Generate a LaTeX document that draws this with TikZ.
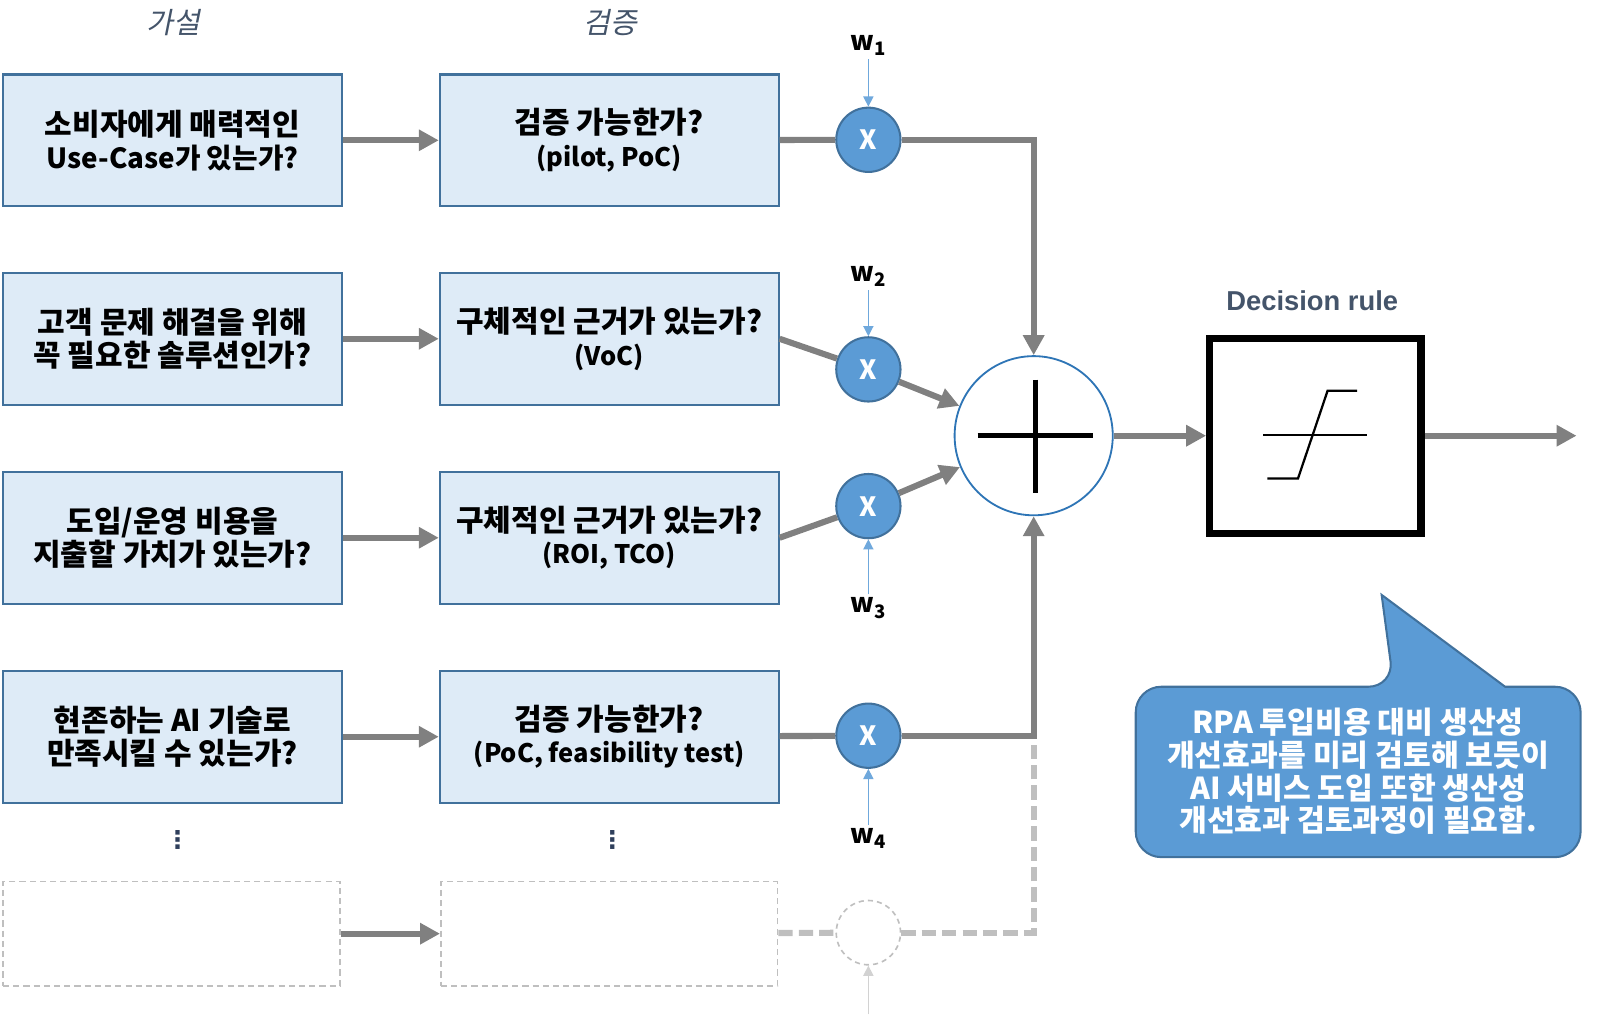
\documentclass[tikz,border=0pt]{standalone}
\usepackage{fontspec}
\setmainfont{Noto Sans CJK KR}
\newfontfamily\krit{Noto Sans CJK KR}[FakeSlant=0.2]
\newfontfamily\arialf{Liberation Sans}
\newfontfamily\dejavuf{DejaVu Sans}
\usetikzlibrary{arrows.meta,shapes.geometric,calc}
\definecolor{boxfill}{HTML}{DEEBF7}
\definecolor{boxborder}{HTML}{41719C}
\definecolor{cfill}{HTML}{5B9BD5}
\definecolor{cborder}{HTML}{41719C}
\definecolor{cgray}{HTML}{808080}
\definecolor{lgray}{HTML}{BFBFBF}
\definecolor{sumborder}{HTML}{2E75B6}
\definecolor{wblue}{HTML}{6FA8DC}
\definecolor{titlecol}{HTML}{44546A}
\definecolor{dotcol}{HTML}{2F3F5C}
\newcommand\hgl{\fontsize{14.7}{16}\selectfont}
\newcommand\mxl{\fontsize{13.6}{16}\selectfont}
\newcommand\ltn{\fontsize{12.5}{16}\selectfont}
\tikzset{
 qbox/.style={draw=boxborder, fill=boxfill, line width=1pt, minimum width=166pt, minimum height=64.5pt, inner sep=0pt, align=center, font=\fontsize{13.5}{16}\selectfont\bfseries},
 dbox/.style={draw=lgray, dash pattern=on 3pt off 2pt, line width=0.8pt, minimum width=165pt, minimum height=51pt, inner sep=0pt},
 mul/.style={circle, draw=cborder, fill=cfill, line width=1pt, minimum size=31.5pt, inner sep=0pt, text=white, font=\fontsize{13}{15}\selectfont\bfseries},
 dcirc/.style={circle, draw=lgray, dash pattern=on 2.5pt off 2pt, line width=0.8pt, minimum size=31.5pt, inner sep=0pt},
 wlab/.style={font=\fontsize{13}{14}\selectfont\bfseries, inner sep=1.5pt},
 gline/.style={draw=cgray, line width=3pt},
 garr/.style={gline, -{Triangle[length=9.8pt,width=10pt]}},
 dline/.style={draw=lgray, line width=3pt, dash pattern=on 7pt off 3pt},
 warr/.style={draw=wblue, line width=0.6pt, -{Triangle[length=5pt,width=5pt]}},
 ttl/.style={font=\krit\fontsize{14.3}{16}\selectfont, text=titlecol},
 dots/.style={font=\dejavuf\fontsize{12}{14}\selectfont\bfseries, text=dotcol},
}
\begin{document}
\begin{tikzpicture}[x=0.5pt,y=-0.5pt]
\useasboundingbox (0,0) rectangle (1568,994);
% titles
\node[ttl] (t1) at (170,22) {가설};
\node[ttl] (t2) at (598,22) {검증};
% hypothesis boxes
\node[qbox] (h1) at (169,137.5) {{\hgl 소비자에게 매력적인}\\{\mxl Use-Case가 있는가?}};
\node[qbox] (h2) at (169,332) {{\hgl 고객 문제 해결을 위해}\\{\hgl 꼭 필요한 솔루션인가?}};
\node[qbox] (h3) at (169,527) {{\hgl 도입/운영 비용을}\\{\hgl 지출할 가치가 있는가?}};
\node[qbox] (h4) at (169,722) {{\hgl 현존하는 AI 기술로}\\{\hgl 만족시킬 수 있는가?}};
% verification boxes
\node[qbox] (v1) at (597,137.5) {{\hgl 검증 가능한가?}\\{\ltn (pilot, PoC)}};
\node[qbox] (v2) at (597,332) {{\hgl 구체적인 근거가 있는가?}\\{\ltn (VoC)}};
\node[qbox] (v3) at (597,527) {{\hgl 구체적인 근거가 있는가?}\\{\ltn (ROI, TCO)}};
\node[qbox] (v4) at (597,722) {{\hgl 검증 가능한가?}\\{\ltn (PoC, feasibility test)}};
% dots
\node[dots] (d1) at (174,823) {⋮};
\node[dots] (d2) at (600,823) {⋮};
% dashed row
\node[dbox] (h5) at (168,915) {};
\node[dbox] (v5) at (597,915) {};
\node[dcirc] (m5) at (851,914) {};
% multiply nodes
\node[mul] (m1) at (851,137) {X};
\node[mul] (m2) at (851,362) {X};
\node[mul] (m3) at (851,496) {X};
\node[mul] (m4) at (851,721) {X};
% weights
\node[wlab] (w1) at (851,45) {w\textsubscript{1}};
\node[wlab] (w2) at (851,271) {w\textsubscript{2}};
\node[wlab] (w3) at (851,596) {w\textsubscript{3}};
\node[wlab] (w4) at (851,822) {w\textsubscript{4}};
\coordinate (w5) at (851,994);
% sum
\node[ellipse, draw=sumborder, fill=white, line width=0.9pt, minimum width=77.5pt, minimum height=78pt, inner sep=0pt] (sum) at (1013,427) {};
\draw[line width=2.6pt] ([xshift=-27.5pt]sum.center) -- ([xshift=29pt]sum.center);
\draw[line width=2.6pt] ([xshift=1pt,yshift=27.5pt]sum.center) -- ([xshift=1pt,yshift=-28pt]sum.center);
% decision
\node[font=\arialf\fontsize{13.4}{15}\selectfont\bfseries, text=titlecol] (dt) at (1286,295) {Decision rule};
\node[draw=black, line width=3.5pt, minimum width=103.5pt, minimum height=95.5pt, inner sep=0pt] (dec) at (1289,427) {};
\begin{scope}[shift={(dec.center)}]
 \draw[line width=1.1pt] (-51,-1) -- (51,-1);
 \draw[line width=1.1pt] (-47,42) -- (-17,42) -- (12,-44) -- (41,-44);
\end{scope}
\coordinate (out) at (1545,427);
% connectors
\draw[garr] (h1) -- (v1);
\draw[garr] (h2) -- (v2);
\draw[garr] (h3) -- (v3);
\draw[garr] (h4) -- (v4);
\draw[garr] (h5) -- (v5);
\draw[gline] (v1) -- (m1);
\draw[gline] (v2.east) -- (m2);
\draw[gline] (v3.east) -- (m3);
\draw[gline] (v4) -- (m4);
\coordinate (j4) at (1013,721);
\draw[dline] (v5) -- (m5);
\draw[dline] (m5) -| (j4);
\draw[garr] (m1) -| (sum);
\draw[garr] (m2) -- (sum);
\draw[garr] (m3) -- (sum);
\draw[garr] (m4) -| (sum);
\draw[garr] (sum) -- (dec);
\draw[garr] (dec) -- (out);
\draw[warr] (w1) -- (m1);
\draw[warr] (w2) -- (m2);
\draw[warr] (w3) -- (m3);
\draw[warr] (w4) -- (m4);
\draw[warr, draw=lgray!70] (w5) -- (m5);
% callout
\path[fill=cfill, draw=cborder, line width=1pt]
 (1475,673) [rounded corners=12.5pt] -- (1549,673) -- (1549,840) -- (1113,840) -- (1113,673) -- (1366,673) [sharp corners] -- (1354,583) -- cycle;
\node[align=center, text=white, font=\fontsize{14.8}{16}\selectfont\bfseries] (ct) at (1331,756) {RPA 투입비용 대비 생산성\\개선효과를 미리 검토해 보듯이\\AI 서비스 도입 또한 생산성\\개선효과 검토과정이 필요함.};
\end{tikzpicture}
\end{document}
